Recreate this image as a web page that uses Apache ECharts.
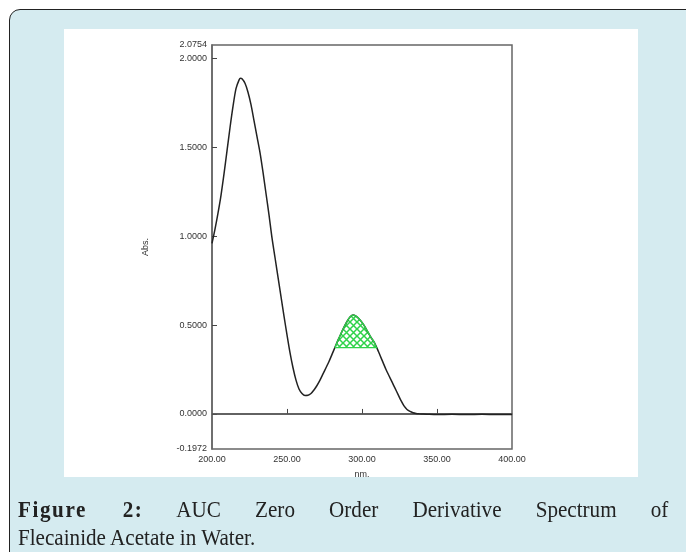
<!DOCTYPE html>
<html>
<head>
<meta charset="utf-8">
<script src="https://cdn.jsdelivr.net/npm/echarts@6/dist/echarts.min.js"></script>
<style>
  html, body { margin: 0; padding: 0; width: 686px; height: 552px; overflow: hidden; }
  .card {
    position: absolute; left: 9px; top: 9px; width: 700px; height: 580px;
    background: #d5ebf0; border: 1.5px solid #222; border-radius: 11px;
  }
  .plot {
    position: absolute; left: 64px; top: 29px; width: 574px; height: 448px; background: #fff;
  }
  #chart { position: absolute; left: 0; top: 0; width: 686px; height: 552px; }
  .caption {
    position: absolute; left: 18px; width: 739px; white-space: nowrap;
    transform: scaleX(0.88); transform-origin: 0 0;
    font-family: "Liberation Serif", "DejaVu Serif", serif; font-size: 24px; line-height: 28px;
    color: #222;
  }
  .caption b { letter-spacing: 1.8px; }
  .line1 { top: 495px; text-align: justify; text-align-last: justify; white-space: normal; }
  .line2 { top: 523px; }
</style>
</head>
<body>
<div class="card"></div>
<div class="plot"></div>
<div id="chart"></div>
<div class="caption line1"><b>Figure 2:</b> AUC Zero Order Derivative Spectrum of</div>
<div class="caption line2">Flecainide Acetate in Water.</div>
<script>
// wavelength (nm) and absorbance
var wavelength = [200, 202, 204, 206, 208, 210, 212, 214, 216, 218, 219, 220, 222, 224, 226, 228, 230,
  232, 234, 236, 238, 240, 242, 244, 246, 248, 250, 252, 254, 256, 258, 260, 262, 264, 266, 268, 270,
  272, 274, 276, 278, 280, 282, 284, 286, 288, 290, 292, 294, 296, 298, 300, 302, 304, 306, 308, 310,
  312, 314, 316, 318, 320, 322, 324, 326, 328, 330, 332, 334, 336, 338, 340, 345, 350, 360, 370, 380, 390, 400];
var absorbance = [0.96, 1.04, 1.13, 1.23, 1.35, 1.48, 1.61, 1.73, 1.83, 1.878, 1.888, 1.885, 1.86, 1.81, 1.74, 1.65, 1.56,
  1.47, 1.36, 1.24, 1.12, 0.99, 0.88, 0.77, 0.66, 0.55, 0.445, 0.345, 0.26, 0.19, 0.14, 0.115, 0.104, 0.105, 0.115, 0.135, 0.16,
  0.19, 0.225, 0.26, 0.295, 0.335, 0.375, 0.415, 0.452, 0.488, 0.52, 0.545, 0.556, 0.55, 0.535, 0.515, 0.49, 0.46, 0.43, 0.405, 0.37,
  0.33, 0.29, 0.25, 0.215, 0.18, 0.145, 0.11, 0.075, 0.045, 0.025, 0.014, 0.007, 0.003, 0.001, 0.0, -0.002, -0.003, -0.002, -0.003, -0.002, -0.003, -0.003];

// shaded AUC band
var aucStart = 282, aucEnd = 310.2, aucBase = 0.373;

var yLabels = [-0.1972, 0, 0.5, 1, 1.5, 2, 2.0754];
var yTicks = [0, 0.5, 1, 1.5, 2];
var xLabels = [200, 250, 300, 350, 400];
var xTicks = [250, 300, 350];

var spectrum = wavelength.map(function (w, i) { return [w, absorbance[i]]; });
var auc = [[aucStart, aucBase]];
spectrum.forEach(function (p) { if (p[0] > aucStart && p[0] < aucEnd) auc.push(p); });
auc.push([aucEnd, aucBase]);

var hatch = document.createElement('canvas');
hatch.width = 7; hatch.height = 7;
var ctx = hatch.getContext('2d');
ctx.strokeStyle = '#2fd34a';
ctx.lineWidth = 1.5;
ctx.beginPath();
ctx.moveTo(0, 0); ctx.lineTo(7, 7);
ctx.moveTo(7, 0); ctx.lineTo(0, 7);
ctx.stroke();

var chart = echarts.init(document.getElementById('chart'));
var labelFont = { fontFamily: 'Liberation Sans, Arial, sans-serif', fontSize: 9, color: '#333' };

chart.setOption({
  animation: false,
  backgroundColor: 'transparent',
  grid: { left: 212, right: 174, top: 45, bottom: 103, show: true, borderColor: '#666', borderWidth: 1.5 },
  xAxis: {
    type: 'value', min: 200, max: 400,
    name: 'nm.', nameLocation: 'middle', nameGap: 21,
    nameTextStyle: labelFont,
    axisLine: { show: true, lineStyle: { color: '#666', width: 1.5 } },
    axisTick: { show: true, inside: true, length: 5, customValues: xTicks, lineStyle: { color: '#444' } },
    axisLabel: Object.assign({ customValues: xLabels, margin: 6, formatter: function (v) { return v.toFixed(2); } }, labelFont),
    splitLine: { show: false }
  },
  yAxis: {
    type: 'value', min: -0.1972, max: 2.0754,
    name: 'Abs.', nameLocation: 'middle', nameGap: 62, nameRotate: 90,
    nameTextStyle: labelFont,
    axisLine: { show: true, lineStyle: { color: '#666', width: 1.5 } },
    axisTick: { show: true, inside: true, length: 5, customValues: yTicks, lineStyle: { color: '#444' } },
    axisLabel: Object.assign({ customValues: yLabels, margin: 5, formatter: function (v) { return v.toFixed(4); } }, labelFont),
    splitLine: { show: false }
  },
  series: [
    {
      type: 'line', data: [[200, 0], [400, 0]], symbol: 'none', silent: true,
      lineStyle: { color: '#555', width: 1.5 }
    },
    {
      type: 'line', data: spectrum, symbol: 'none', smooth: 0.3,
      lineStyle: { color: '#222', width: 1.5 }
    },
    {
      type: 'line', data: auc, symbol: 'none', smooth: 0.3,
      lineStyle: { color: '#2fd34a', width: 1.4 },
      areaStyle: { origin: aucBase, color: { image: hatch, repeat: 'repeat' }, opacity: 1 }
    },
    {
      type: 'line', data: [[aucStart, aucBase], [aucEnd, aucBase]], symbol: 'none',
      lineStyle: { color: '#2fd34a', width: 1.4 }
    }
  ]
});
</script>
</body>
</html>
